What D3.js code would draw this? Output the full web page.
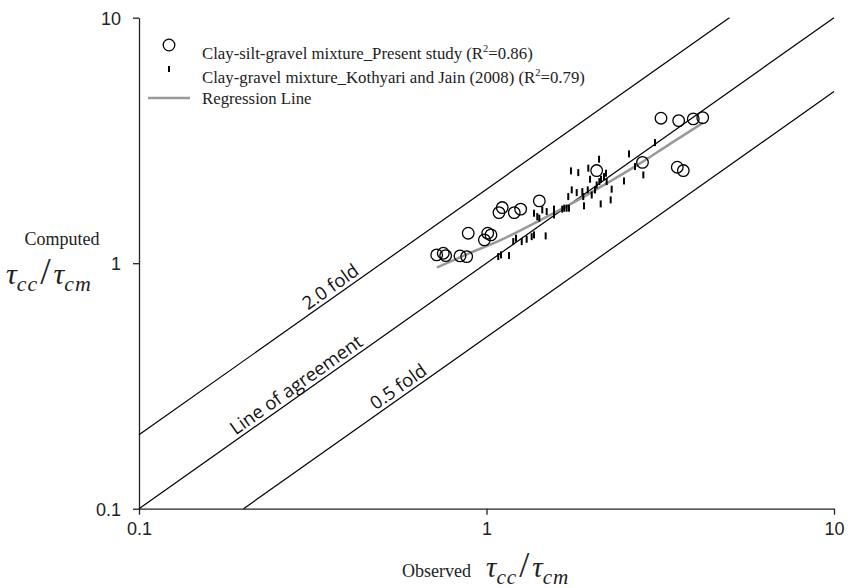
<!DOCTYPE html>
<html>
<head>
<meta charset="utf-8">
<script src="https://cdn.jsdelivr.net/npm/d3@7"></script>
<style>
  body { margin: 0; background: #fff; }
  svg { display: block; }
</style>
</head>
<body>
<svg id="chart"></svg>
<script>
const width = 855,
    height = 588;

// Clay-silt-gravel mixture, present study (observed, computed)
const presentObs = [0.719, 0.751, 0.763, 0.839, 0.877, 0.886, 0.986, 1.008, 1.03, 1.086, 1.11,
    1.202, 1.254, 1.419, 2.075, 2.811, 3.178, 3.573, 3.936, 4.19, 3.54, 3.684];
const presentComp = [1.081, 1.098, 1.074, 1.071, 1.064, 1.325, 1.244, 1.325, 1.304, 1.607, 1.685,
    1.607, 1.66, 1.794, 2.384, 2.574, 3.896, 3.809, 3.871, 3.918, 2.46, 2.384];

// Clay-gravel mixture, Kothyari and Jain (2008)
const kjObs = [1.081, 1.101, 1.161, 1.194, 1.216, 1.263, 1.305, 1.349, 1.37, 1.48, 1.37, 1.4,
    1.419, 1.447, 1.49, 1.564, 1.564, 1.652, 1.674, 1.701, 1.727, 1.719, 1.759, 1.818, 1.887,
    1.899, 1.908, 1.956, 1.986, 2.008, 2.052, 2.075, 2.112, 2.136, 2.131, 2.178, 2.207, 2.217,
    2.292, 2.277, 1.75, 1.837, 1.963, 2.108, 2.487, 2.571, 2.675, 2.827, 3.054];
const kjComp = [1.064, 1.081, 1.074, 1.225, 1.264, 1.225, 1.252, 1.283, 1.304, 1.292, 1.598, 1.548,
    1.525, 1.648, 1.623, 1.573, 1.66, 1.66, 1.675, 1.675, 1.675, 1.868, 1.989, 1.939, 1.957,
    1.868, 1.712, 1.989, 2.198, 1.897, 1.989, 2.084, 2.149, 2.198, 1.744, 2.253, 2.326, 2.149,
    2.002, 1.811, 2.377, 2.339, 2.438, 2.652, 2.163, 2.788, 2.475, 2.289, 3.099];

// regression line
const regObs = [0.72, 0.897, 1.094, 1.425, 1.858, 2.267, 2.765, 3.374, 4.198];
const regComp = [0.961, 1.101, 1.238, 1.494, 1.827, 2.153, 2.551, 3.061, 3.729];

// reference lines: factor, start, end (observed)
const refFactors = [2, 1, 0.5];
const refStarts = [0.1, 0.1, 0.2];
const refEnds = [5, 10, 10];
const refLabels = ["2.0 fold", "Line of agreement", "0.5 fold"];
const refLabelAt = [0.37, 0.295, 0.58];

const tickValues = [0.1, 1, 10];
const legendLabels = [
    ["Clay-silt-gravel mixture_Present study (R", "=0.86)"],
    ["Clay-gravel mixture_Kothyari and Jain (2008) (R", "=0.79)"],
    ["Regression Line"]
];

const svg = d3.select("#chart").attr("width", width).attr("height", height);

const xScale = d3.scaleLog().domain([0.1, 10]).range([139, 834]);
const yScale = d3.scaleLog().domain([0.1, 10]).range([508.7, 17.7]);

const fmt = (d) => (d < 1 ? "0.1" : String(d));

const xAxis = d3.axisBottom(xScale).tickValues(tickValues).tickFormat(fmt)
    .tickSizeOuter(0).tickSizeInner(6).tickPadding(8);
const yAxis = d3.axisLeft(yScale).tickValues(tickValues).tickFormat(fmt)
    .tickSizeOuter(0).tickSizeInner(6).tickPadding(12);

const gx = svg.append("g").attr("transform", `translate(0, ${yScale(0.1)})`).call(xAxis);
const gy = svg.append("g").attr("transform", `translate(${xScale(0.1)}, 0)`).call(yAxis);
[gx, gy].forEach((g) => {
    g.selectAll("path, line").attr("stroke", "#222").attr("stroke-width", 1.3);
    g.selectAll("text").attr("font-family", "Liberation Sans, Arial, sans-serif")
        .attr("font-size", 18).attr("fill", "#222");
});
gy.selectAll("text").attr("dy", "0.35em");

// reference lines
const angle = Math.atan2(yScale(10) - yScale(1), xScale(10) - xScale(1)) * 180 / Math.PI;
refFactors.forEach((f, i) => {
    svg.append("line")
        .attr("x1", xScale(refStarts[i])).attr("y1", yScale(refStarts[i] * f))
        .attr("x2", xScale(refEnds[i])).attr("y2", yScale(refEnds[i] * f))
        .attr("stroke", "#000").attr("stroke-width", 1.2);
    const lx = xScale(refLabelAt[i]), ly = yScale(refLabelAt[i] * f);
    svg.append("text")
        .attr("transform", `translate(${lx}, ${ly}) rotate(${angle})`)
        .attr("dy", -4)
        .attr("text-anchor", "middle")
        .attr("font-family", "Open Sans, sans-serif")
        .attr("font-size", 18.5)
        .attr("fill", "#111")
        .text(refLabels[i]);
});

// regression line
const line = d3.line().x((d) => xScale(d[0])).y((d) => yScale(d[1])).curve(d3.curveMonotoneX);
svg.append("path")
    .datum(regObs.map((d, i) => [d, regComp[i]]))
    .attr("d", line)
    .attr("fill", "none").attr("stroke", "#999").attr("stroke-width", 2.5);

// Kothyari and Jain dashes
svg.selectAll(".kj")
    .data(kjObs.map((d, i) => [d, kjComp[i]]))
    .enter().append("line")
    .attr("class", "kj")
    .attr("x1", (d) => xScale(d[0])).attr("x2", (d) => xScale(d[0]))
    .attr("y1", (d) => yScale(d[1]) - 3.5).attr("y2", (d) => yScale(d[1]) + 3.5)
    .attr("stroke", "#000").attr("stroke-width", 2);

// present study circles
svg.selectAll(".ps")
    .data(presentObs.map((d, i) => [d, presentComp[i]]))
    .enter().append("circle")
    .attr("class", "ps")
    .attr("cx", (d) => xScale(d[0])).attr("cy", (d) => yScale(d[1]))
    .attr("r", 5.8)
    .attr("fill", "none").attr("stroke", "#000").attr("stroke-width", 1.3);

// legend
const legend = svg.append("g");
legend.append("circle").attr("cx", 169).attr("cy", 45).attr("r", 5.8)
    .attr("fill", "none").attr("stroke", "#000").attr("stroke-width", 1.3);
legend.append("line").attr("x1", 169).attr("x2", 169).attr("y1", 66).attr("y2", 72)
    .attr("stroke", "#000").attr("stroke-width", 2);
legend.append("line").attr("x1", 148).attr("x2", 190).attr("y1", 98).attr("y2", 98)
    .attr("stroke", "#999").attr("stroke-width", 2.5);
const legendY = [58.5, 82.5, 103.5];
legendLabels.forEach((parts, i) => {
    const t = legend.append("text")
        .attr("x", 202).attr("y", legendY[i])
        .attr("font-family", "Liberation Serif, Times New Roman, serif")
        .attr("font-size", 16.8).attr("fill", "#222");
    t.append("tspan").text(parts[0]);
    if (parts.length > 1) {
        t.append("tspan").attr("dy", -7).attr("font-size", 10.5).text("2");
        t.append("tspan").attr("dy", 7).text(parts[1]);
    }
});

// axis titles
const ratio = (t, size, gap) => {
    const sub = size * 0.73;
    t.append("tspan").attr("font-size", size).attr("font-style", "italic").attr("dx", gap).text("\u03C4");
    t.append("tspan").attr("font-size", sub).attr("font-style", "italic").attr("dy", 7)
        .attr("letter-spacing", 1).text("cc");
    t.append("tspan").attr("font-size", size * 1.25).attr("dy", -7).attr("dx", 2).text("/");
    t.append("tspan").attr("font-size", size).attr("font-style", "italic").attr("dx", 3).text("\u03C4");
    t.append("tspan").attr("font-size", sub).attr("font-style", "italic").attr("dy", 7)
        .attr("letter-spacing", 1).text("cm");
};

const serif = "Liberation Serif, Times New Roman, serif";
const xt = svg.append("text").attr("x", 402).attr("y", 577)
    .attr("font-family", serif).attr("fill", "#222");
xt.append("tspan").attr("font-size", 18).text("Observed");
ratio(xt, 29, 15);

svg.append("text").attr("x", 62).attr("y", 245).attr("text-anchor", "middle")
    .attr("font-family", serif).attr("font-size", 18).attr("fill", "#222").text("Computed");
const yt = svg.append("text").attr("x", 6).attr("y", 284)
    .attr("font-family", serif).attr("fill", "#222");
ratio(yt, 30, 0);
</script>
</body>
</html>
